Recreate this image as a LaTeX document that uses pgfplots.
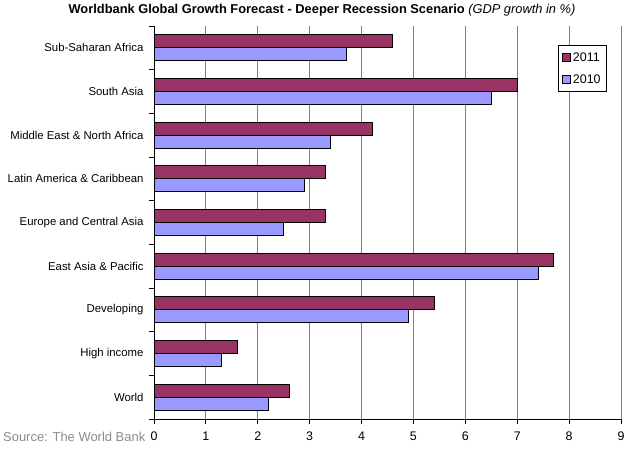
\documentclass[border=0pt]{standalone}
\usepackage{pgfplots}
\pgfplotsset{compat=1.18}
\usepackage{fontspec}
\setmainfont{Liberation Sans}
\usetikzlibrary{calc}
\definecolor{c2011}{HTML}{993366}
\definecolor{c2010}{HTML}{9999FF}
\begin{document}
\begin{tikzpicture}
\begin{axis}[
  name=ax, at={(0,0)}, anchor=south west,
  scale only axis, width=467bp, height=393bp,
  xbar, bar width=13bp,
  xmin=0, xmax=9, ymin=-0.5, ymax=8.5,
  axis x line=bottom, axis y line=left,
  axis line style={-, black, line width=0.8pt},
  xtick={0,...,9},
  ytick={0,...,8},
  yticklabels={World, High income, Developing, East Asia \& Pacific, Europe and Central Asia, Latin America \& Caribbean, Middle East \& North Africa, South Asia, Sub-Saharan Africa},
  minor ytick={-0.5,0.5,...,8.5},
  tick align=outside,
  major tick length=5bp, minor tick length=5bp,
  major y tick style={draw=none},
  minor y tick style={black, line width=0.8pt},
  major x tick style={black, line width=0.8pt},
  xmajorgrids, major x grid style={gray, line width=0.8pt},
  /pgf/number format/assume math mode=true,
  yticklabel style={font=\fontsize{11.4}{14}\selectfont, xshift=-2bp},
  xticklabel style={font=\fontsize{12.5}{14}\selectfont, yshift=-4bp},
  reverse legend,
  legend style={at={(1,1)}, anchor=north east, xshift=-14bp, yshift=-19bp,
    draw=black, line width=0.8pt, font=\fontsize{12.5}{14}\selectfont,
    inner xsep=4bp, inner ysep=5bp, row sep=8bp},
  legend cell align=left,
  legend image code/.code={\draw[#1, line width=0.6pt] (0bp,-4bp) rectangle (8bp,4bp);},
]
\addplot[fill=c2010, draw=black, line width=0.8pt, bar shift=-6.5bp] coordinates {
  (2.2,0) (1.3,1) (4.9,2) (7.4,3) (2.5,4) (2.9,5) (3.4,6) (6.5,7) (3.7,8)};
\addlegendentry{2010}
\addplot[fill=c2011, draw=black, line width=0.8pt, bar shift=6.5bp] coordinates {
  (2.6,0) (1.6,1) (5.4,2) (7.7,3) (3.3,4) (3.3,5) (4.2,6) (7.0,7) (4.6,8)};
\addlegendentry{2011}
\end{axis}
\node[font=\bfseries\fontsize{12.9}{15}\selectfont] at ($(ax.north west)+(168bp,16bp)$)
  {Worldbank Global Growth Forecast - Deeper Recession Scenario \textit{\mdseries (GDP growth in \%)}};
\node[anchor=base west, text=gray!90, font=\fontsize{13}{15}\selectfont, inner sep=0pt]
  at ($(ax.south west)+(-151bp,-23bp)$) {Source: The World Bank};
\pgfresetboundingbox
\path ($(ax.south west)+(-154bp,-31bp)$) rectangle ($(ax.north east)+(8bp,26bp)$);
\end{tikzpicture}
\end{document}
